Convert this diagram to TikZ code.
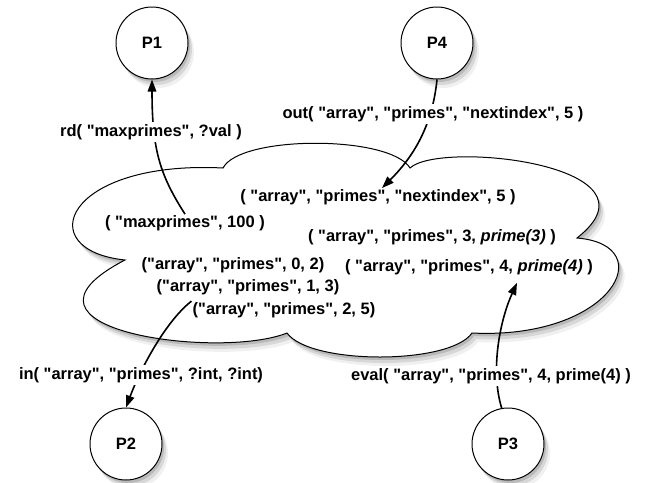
\documentclass[tikz,border=0pt]{standalone}
\usepackage{fontspec}
\setmainfont[Ligatures=TeXOff]{Liberation Sans}
\usetikzlibrary{arrows.meta,shadows}

\begin{document}
\begin{tikzpicture}[x=1pt, y=-1pt,
  font=\fontsize{16.5}{19}\selectfont\bfseries,
  shd/.style={drop shadow={shadow xshift=2pt, shadow yshift=-3pt, opacity=.35},
              drop shadow={shadow xshift=4pt, shadow yshift=-6pt, opacity=.22},
              drop shadow={shadow xshift=6pt, shadow yshift=-9pt, opacity=.12}},
  proc/.style={circle, draw, line width=1pt, fill=white, minimum size=72pt,
               inner sep=0pt, shd},
  tup/.style={inner sep=1pt},
  op/.style={fill=white, inner sep=2pt},
  arr/.style={-{Triangle[length=12pt, width=8.5pt]}, line width=1.6pt}]
  \useasboundingbox (0,0) rectangle (647,482);
  % tuple space
  \draw[line width=1pt, fill=white, shd]
    (125,260) .. controls (30,250) and (65,160) .. (223,168)
    .. controls (240,135) and (390,135) .. (410,168)
    .. controls (440,140) and (670,165) .. (577,238)
    .. controls (662,245) and (612,340) .. (472,333)
    .. controls (450,365) and (310,365) .. (287,333)
    .. controls (220,360) and (-10,330) .. cycle;
  % processes
  \node[proc] (p1) at (152,43) {P1};
  \node[proc] (p4) at (437,43) {P4};
  \node[proc] (p2) at (126,444) {P2};
  \node[proc] (p3) at (508,444) {P3};
  % tuples
  \node[tup] (nxt) at (378,197) {( "array", "primes", "nextindex", 5 )};
  \node[tup] (maxp) at (185,223) {( "maxprimes", 100 )};
  \node[tup] (t3) at (432,237) {( "array", "primes", 3, \textit{prime(3)} )};
  \node[tup] (t0) at (233,265) {("array", "primes", 0, 2)};
  \node[tup] (t4) at (469,267) {( "array", "primes", 4, \textit{prime(4)} )};
  \node[tup] (t1) at (248,287) {("array", "primes", 1, 3)};
  \node[tup] (t2) at (284,310) {("array", "primes", 2, 5)};
  % operations
  \draw[arr] (maxp.north) .. controls (160,175) and (152,150) .. (p1.south);
  \draw[arr] (p4.south) .. controls (432,130) and (410,160) .. ([xshift=4pt]nxt.north);
  \draw[arr] (t2.north west) .. controls (165,322) and (140,370) .. (p2.north);
  \draw[arr] (p3.100) .. controls (490,370) and (500,320) .. ([xshift=48pt,yshift=-7pt]t4.south);
  \node[op] (rdl) at (151,132) {rd( "maxprimes", ?val )};
  \node[op] (outl) at (433,114) {out( "array", "primes", "nextindex", 5 )};
  \node[op] (inl) at (141,375) {in( "array", "primes", ?int, ?int)};
  \node[op] (evl) at (491,376) {eval( "array", "primes", 4, prime(4) )};
\end{tikzpicture}
\end{document}
